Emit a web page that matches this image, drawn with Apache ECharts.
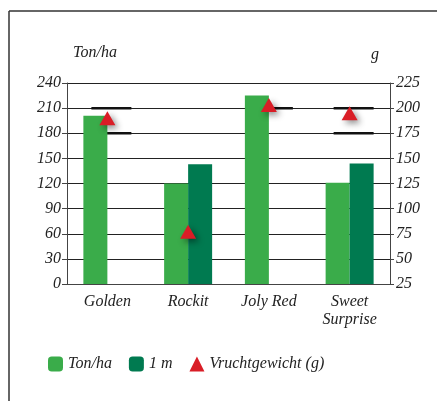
<!DOCTYPE html>
<html>
<head>
<meta charset="utf-8">
<script src="https://cdn.jsdelivr.net/npm/echarts@6/dist/echarts.min.js"></script>
<style>
  html, body { margin: 0; padding: 0; background: #fff; }
  #chart { width: 437px; height: 401px; }
</style>
</head>
<body>
<div id="chart"></div>
<script>
const categories = ["Golden", "Rockit", "Joly Red", "Sweet\nSurprise"];
const tonHa = [201, 120, 225, 121];
const oneM = [null, 143, null, 144];
const vruchtgewicht = [190, 77, 203, 195];
const rangeHigh = [210, null, 210, 210];
const rangeLow = [180, null, null, 180];

const font = "Liberation Serif";
const textStyle = { fontFamily: font, fontStyle: "italic", fontSize: 16, color: "#222" };

const myChart = echarts.init(document.getElementById("chart"));
const option = {
    animation: false,
    textStyle: textStyle,
    graphic: [
        { type: "line", shape: { x1: 9, y1: 11, x2: 437, y2: 11 }, style: { stroke: "#333", lineWidth: 1.5 } },
        { type: "line", shape: { x1: 9, y1: 11, x2: 9, y2: 401 }, style: { stroke: "#333", lineWidth: 1.5 } }
    ],
    grid: { left: 67, right: 47, top: 83, bottom: 117 },
    legend: {
        data: ["Ton/ha", "1 m", "Vruchtgewicht (g)"],
        left: 48,
        top: 356,
        padding: 0,
        itemWidth: 15,
        itemHeight: 15,
        itemGap: 17,
        itemStyle: { shadowBlur: 0, shadowOffsetX: 0, shadowOffsetY: 0, opacity: 1 },
        textStyle: textStyle
    },
    xAxis: {
        type: "category",
        data: categories,
        axisLine: { lineStyle: { color: "#444", width: 1 } },
        axisTick: { length: 6, lineStyle: { color: "#444" } },
        axisLabel: { ...textStyle, margin: 9, lineHeight: 18 }
    },
    yAxis: [
        {
            type: "value",
            min: 0, max: 240, interval: 30,
            name: "Ton/ha",
            nameGap: 22,
            nameTextStyle: { ...textStyle, align: "left", padding: [0, 0, 0, 6] },
            axisLine: { show: true, lineStyle: { color: "#444" } },
            axisTick: { show: true, length: 5, lineStyle: { color: "#444" } },
            axisLabel: { ...textStyle, margin: 6 },
            splitLine: { lineStyle: { color: "#222", width: 1 } }
        },
        {
            type: "value",
            min: 25, max: 225, interval: 25,
            name: "g",
            nameGap: 20,
            nameTextStyle: { ...textStyle, align: "right", padding: [0, 11, 0, 0] },
            axisLine: { show: true, lineStyle: { color: "#444" } },
            axisTick: { show: true, length: 4, lineStyle: { color: "#444" } },
            axisLabel: { ...textStyle, margin: 6 },
            splitLine: { show: false }
        }
    ],
    series: [
        {
            name: "range high",
            type: "scatter",
            yAxisIndex: 0,
            symbol: "rect",
            symbolSize: [40, 2.5],
            symbolOffset: [4, 0],
            itemStyle: { color: "#111", opacity: 1 },
            z: 1,
            silent: true,
            data: rangeHigh
        },
        {
            name: "range low",
            type: "scatter",
            yAxisIndex: 0,
            symbol: "rect",
            symbolSize: [40, 2.5],
            symbolOffset: [4, 0],
            itemStyle: { color: "#111", opacity: 1 },
            z: 1,
            silent: true,
            data: rangeLow
        },
        {
            name: "Ton/ha",
            type: "bar",
            yAxisIndex: 0,
            barWidth: 24,
            barGap: "0%",
            itemStyle: { color: "#3aac4a" },
            z: 2,
            data: tonHa
        },
        {
            name: "1 m",
            type: "bar",
            yAxisIndex: 0,
            barWidth: 24,
            barGap: "0%",
            itemStyle: { color: "#007a50" },
            z: 2,
            data: oneM
        },
        {
            name: "Vruchtgewicht (g)",
            type: "scatter",
            yAxisIndex: 1,
            symbol: "triangle",
            symbolSize: [16, 14],
            itemStyle: {
                color: "#d91d26",
                opacity: 1,
                shadowBlur: 6,
                shadowColor: "rgba(0,0,0,0.45)",
                shadowOffsetX: 3,
                shadowOffsetY: 3
            },
            z: 5,
            data: vruchtgewicht
        }
    ]
};
myChart.setOption(option);
</script>
</body>
</html>
